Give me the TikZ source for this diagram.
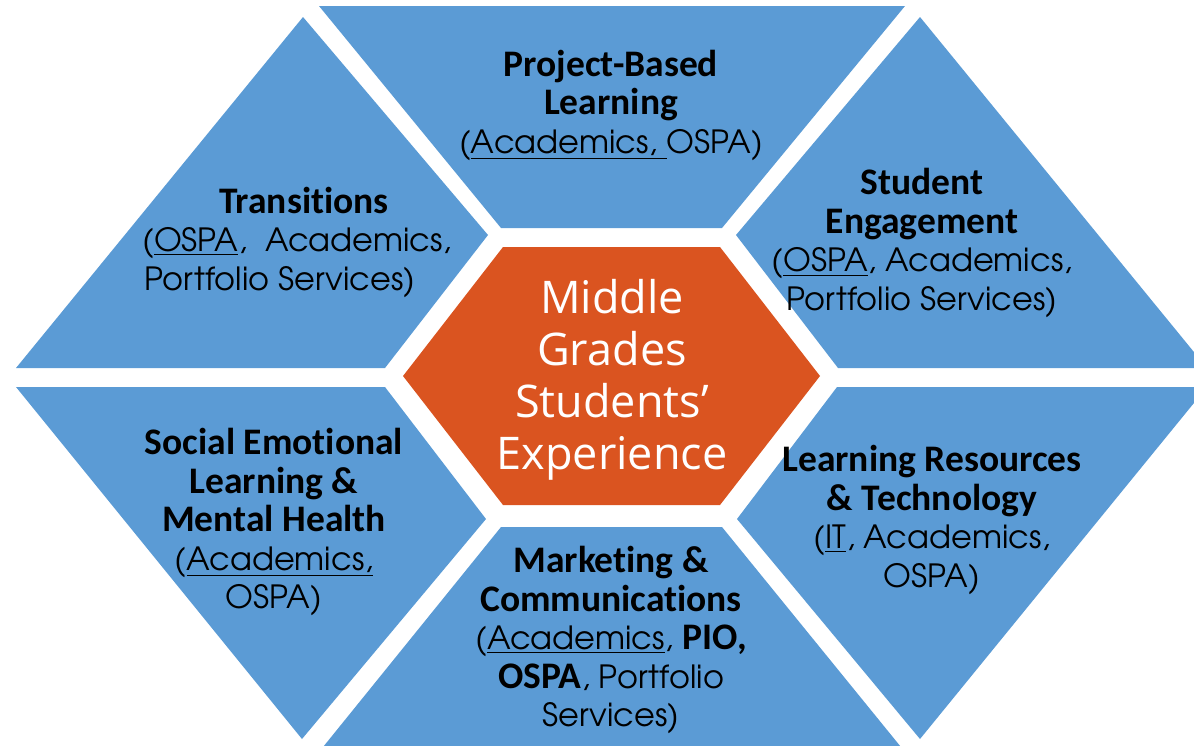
\documentclass[tikz,border=0pt]{standalone}
\usepackage{fontspec}
\setmainfont{TeX Gyre Adventor}
\setsansfont{Carlito}[Ligatures=NoCommon]
\newfontfamily\ctrfont{Open Sans}
\newcommand{\lbl}[1]{{\sffamily\bfseries\fontsize{18.75}{19.25}\selectfont #1}}
\definecolor{pieceblue}{RGB}{91,155,213}
\definecolor{hexorange}{RGB}{218,84,32}
\tikzset{
  piece/.style={fill=pieceblue, draw=none},
  hub/.style={fill=hexorange, draw=none},
  lab/.style={align=center, text=black, inner sep=0pt,
    font={\fontsize{16}{19.25}\selectfont}},
  hublab/.style={align=center, text=white, inner sep=0pt,
    font={\ctrfont\fontsize{22.5}{26}\selectfont}}
}
\begin{document}
\begin{tikzpicture}[x=0.5pt, y=-0.5pt]
\useasboundingbox (0,0) rectangle (1194,745);
\clip (0,0) rectangle (1194,745);
% outer pieces
\fill[piece] (319,6) -- (905,6) -- (722,228) -- (501,228) -- cycle;
\fill[piece] (303,17) -- (488,235) -- (385,368) -- (16,368) -- cycle;
\fill[piece] (920,17) -- (1207,368) -- (838,368) -- (736,235) -- cycle;
\fill[piece] (16,387) -- (385,387) -- (486,519) -- (302,739) -- cycle;
\fill[piece] (837,387) -- (1207,387) -- (920,739) -- (737,519) -- cycle;
\fill[piece] (501,527) -- (722,527) -- (905,752) -- (319,752) -- cycle;
% centre hexagon
\fill[hub] (503,247) -- (720,247) -- (820,376) -- (720,505) -- (503,505) -- (403,376) -- cycle;
% texts
\node[lab] (pbl) at (611,105) {\lbl{Project-Based}\\\lbl{Learning}\\(\underline{Academics, }OSPA)};
\node[lab] (trans) at (297,242) {\hspace*{7pt}\lbl{Transitions}\\(\underline{OSPA},\ \ Academics,\\Portfolio Services)\hspace*{17pt}};
\node[lab] (seng) at (922,243) {\lbl{Student}\\\lbl{Engagement}\\(\underline{OSPA}, Academics,\\Portfolio Services)};
\node[lab] (sel) at (274,522) {\lbl{Social Emotional}\\\lbl{Learning \&}\\\lbl{Mental Health}\\(\underline{Academics,}\\OSPA)};
\node[hublab] (hub) at (612,380) {Middle\\Grades\\Students’\\Experience};
\node[lab] (lrt) at (932,520) {\lbl{Learning Resources}\\\lbl{\& Technology}\\(\underline{IT}, Academics,\\OSPA)};
\node[lab] (mc) at (611,640) {\lbl{Marketing \&}\\\lbl{Communications}\\(\underline{Academics}, \lbl{PIO,}\\\lbl{OSPA}, Portfolio\\Services)};
\end{tikzpicture}
\end{document}
